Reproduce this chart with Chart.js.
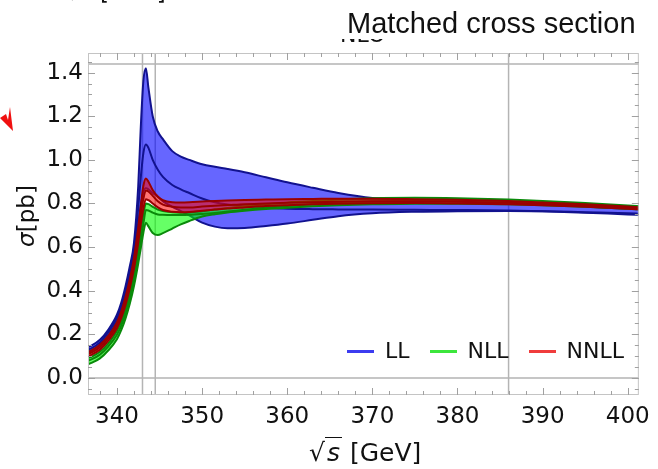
<!DOCTYPE html>
<html>
<head>
<meta charset="utf-8">
<script src="https://cdn.jsdelivr.net/npm/chart.js@4.4.1/dist/chart.umd.min.js"></script>
<style>
  html, body { margin: 0; padding: 0; background: #fff; }
  #wrap { position: relative; width: 658px; height: 469px; overflow: hidden; font-family: "DejaVu Sans", sans-serif; color: #111; }
  #chart { position: absolute; left: 0; top: 0; }
  .abs { position: absolute; white-space: nowrap; line-height: 1; }
  #title { left: 347px; top: 9px; font: 29px/1 "Liberation Sans", Arial, sans-serif; }
  #topcut { left: 66px; top: -19px; font-size: 23px; }
  #subcut { left: 340px; top: 24px; font-size: 22px; clip-path: inset(15px 0 0 0); }
  #xtitle { left: 309px; top: 440px; font-size: 25px; }
  #xtitle .rad { border-top: 1.5px solid #111; font-style: italic; padding: 0 2px; }
  #ytitle { left: -24px; top: 201px; width: 100px; height: 30px; line-height: 30px; text-align: center; font-size: 23px; transform: rotate(-90deg); }
  #legend { left: 347px; top: 340px; display: flex; align-items: center; font-size: 22px; }
  #legend .sw { display: inline-block; width: 27px; height: 3px; margin-right: 11px; }
  #legend .lab { margin-right: 20px; }
  #arrow { left: 0; top: 104px; }
</style>
</head>
<body>
<div id="wrap">
  <canvas id="chart" width="658" height="469"></canvas>
  <div class="abs" id="topcut">√s [GeV]</div>
  <div class="abs" id="subcut">NLO</div>
  <div class="abs" id="title">Matched cross section</div>
  <div class="abs" id="xtitle">√<span class="rad">s</span> [GeV]</div>
  <div class="abs" id="ytitle"><i>σ</i>[pb]</div>
  <div class="abs" id="legend"></div>
  <svg class="abs" id="arrow" width="18" height="32"><path d="M0,14 L6,10 L8,16 L10,3 L13,27 Z" fill="#f01010"/></svg>
</div>
<script>
// centre-of-mass energy grid [GeV]
const energy = [336.5, 337, 338, 339, 340, 340.5, 341, 341.5, 342, 342.5, 342.8, 343.1, 343.4, 343.7,
  344.2, 344.8, 345.4, 346.5, 347.5, 348.5, 350, 351.5, 353, 355, 357.5, 360, 363, 366, 370, 375,
  380, 386, 390, 395, 400, 401.5];

// cross section [pb]: scale-variation band (upper / central / lower) per order
const llUpper = [0.14, 0.148, 0.175, 0.222, 0.29, 0.345, 0.42, 0.51, 0.62, 0.88, 1.15, 1.36, 1.42, 1.33,
  1.2, 1.13, 1.095, 1.04, 1.015, 1.0, 0.98, 0.968, 0.958, 0.943, 0.92, 0.897, 0.872, 0.848, 0.825, 0.814,
  0.809, 0.802, 0.796, 0.786, 0.776, 0.773];
const llCentral = [0.128, 0.136, 0.163, 0.21, 0.276, 0.33, 0.4, 0.485, 0.595, 0.78, 0.92, 1.03, 1.07, 1.055,
  1.0, 0.955, 0.922, 0.885, 0.865, 0.848, 0.823, 0.806, 0.795, 0.786, 0.78, 0.776, 0.774, 0.773, 0.772, 0.771,
  0.77, 0.768, 0.765, 0.76, 0.755, 0.753];
const llLower = [0.115, 0.123, 0.15, 0.196, 0.26, 0.312, 0.38, 0.46, 0.565, 0.71, 0.79, 0.85, 0.87, 0.865,
  0.848, 0.83, 0.81, 0.785, 0.765, 0.745, 0.712, 0.694, 0.687, 0.688, 0.697, 0.708, 0.725, 0.742, 0.755, 0.762,
  0.765, 0.766, 0.764, 0.758, 0.75, 0.748];

const nllUpper = [0.09, 0.097, 0.12, 0.159, 0.215, 0.258, 0.315, 0.388, 0.478, 0.595, 0.675, 0.75, 0.8, 0.797,
  0.785, 0.772, 0.765, 0.76, 0.758, 0.759, 0.765, 0.772, 0.779, 0.787, 0.796, 0.804, 0.811, 0.818, 0.824, 0.826,
  0.824, 0.818, 0.812, 0.802, 0.791, 0.788];
const nllCentral = [0.078, 0.085, 0.107, 0.145, 0.198, 0.24, 0.294, 0.364, 0.45, 0.56, 0.635, 0.705, 0.77, 0.768,
  0.758, 0.75, 0.748, 0.747, 0.747, 0.748, 0.752, 0.757, 0.763, 0.771, 0.78, 0.788, 0.796, 0.802, 0.808, 0.811,
  0.811, 0.807, 0.802, 0.793, 0.783, 0.78];
const nllLower = [0.062, 0.069, 0.09, 0.127, 0.178, 0.219, 0.272, 0.339, 0.422, 0.525, 0.595, 0.665, 0.712, 0.695,
  0.665, 0.655, 0.664, 0.685, 0.704, 0.72, 0.74, 0.751, 0.759, 0.767, 0.775, 0.781, 0.787, 0.792, 0.796, 0.799,
  0.799, 0.796, 0.792, 0.785, 0.776, 0.773];

const nnllUpper = [0.118, 0.126, 0.152, 0.194, 0.255, 0.305, 0.37, 0.45, 0.55, 0.69, 0.79, 0.88, 0.915, 0.9,
  0.862, 0.832, 0.815, 0.806, 0.805, 0.806, 0.809, 0.812, 0.814, 0.816, 0.818, 0.82, 0.821, 0.822, 0.822, 0.82,
  0.817, 0.811, 0.805, 0.796, 0.786, 0.783];
const nnllCentral = [0.108, 0.116, 0.141, 0.183, 0.242, 0.29, 0.352, 0.43, 0.525, 0.655, 0.745, 0.82, 0.86, 0.855,
  0.835, 0.81, 0.795, 0.785, 0.782, 0.782, 0.786, 0.79, 0.793, 0.797, 0.8, 0.803, 0.806, 0.808, 0.81, 0.81,
  0.808, 0.803, 0.798, 0.79, 0.781, 0.778];
const nnllLower = [0.098, 0.106, 0.13, 0.171, 0.228, 0.274, 0.334, 0.41, 0.5, 0.62, 0.705, 0.775, 0.82, 0.815,
  0.8, 0.782, 0.77, 0.762, 0.76, 0.761, 0.767, 0.772, 0.777, 0.782, 0.788, 0.792, 0.796, 0.799, 0.801, 0.802,
  0.8, 0.796, 0.792, 0.785, 0.776, 0.773];

const orders = ["LL", "NLL", "NNLL"];
const xTicks = [340, 350, 360, 370, 380, 390, 400];
const yTicks = [0.0, 0.2, 0.4, 0.6, 0.8, 1.0, 1.2, 1.4];
// thresholds / reference lines
const refX = [343.0, 344.5, 386.0];
const refY = [0.0, 1.44];

const styles = {
  LL:   { line: "#12128f", fill: "rgba(0,0,255,0.6)",  key: "#3c3cf0" },
  NLL:  { line: "#0a8a0a", fill: "rgba(0,255,0,0.6)",  key: "#3ce63c" },
  NNLL: { line: "#9a0000", fill: "rgba(255,0,0,0.55)", key: "#f03c3c" }
};

const pts = vals => vals.map((v, i) => ({ x: energy[i], y: v }));

function band(name, upper, central, lower, baseOrder) {
  const s = styles[name];
  const common = { borderColor: s.line, borderWidth: 2, pointRadius: 0, cubicInterpolationMode: "monotone" };
  return [
    { ...common, label: name + " upper", data: pts(upper), fill: "+2", backgroundColor: s.fill, order: baseOrder + 2 },
    { ...common, label: name, data: pts(central), fill: false, order: baseOrder + 1 },
    { ...common, label: name + " lower", data: pts(lower), fill: false, order: baseOrder }
  ];
}

const datasets = [
  ...band("LL", llUpper, llCentral, llLower, 7),
  ...band("NLL", nllUpper, nllCentral, nllLower, 4),
  ...band("NNLL", nnllUpper, nnllCentral, nnllLower, 1)
];

// gray reference lines behind the bands, light frame with inward ticks on top
const framePlugin = {
  id: "frame",
  beforeDatasetsDraw(chart) {
    const { ctx, chartArea: a, scales: { x, y } } = chart;
    ctx.save();
    ctx.strokeStyle = "#b4b4b4";
    ctx.lineWidth = 1.5;
    ctx.beginPath();
    refX.forEach(v => { const p = x.getPixelForValue(v); ctx.moveTo(p, a.top); ctx.lineTo(p, a.bottom); });
    refY.forEach(v => { const p = y.getPixelForValue(v); ctx.moveTo(a.left, p); ctx.lineTo(a.right, p); });
    ctx.stroke();
    ctx.restore();
  },
  afterDatasetsDraw(chart) {
    const { ctx, chartArea: a, scales: { x, y } } = chart;
    ctx.save();
    ctx.strokeStyle = "#c4c4c4";
    ctx.lineWidth = 1;
    ctx.strokeRect(a.left + 0.5, a.top + 0.5, a.width - 1, a.height - 1);
    ctx.strokeStyle = "#a0a0a0";
    ctx.beginPath();
    for (let v = 336; v <= 402; v += 2) {
      if (v < x.min || v > x.max) continue;
      const p = Math.round(x.getPixelForValue(v)) + 0.5;
      const len = v % 10 === 0 ? 7 : 4;
      ctx.moveTo(p, a.bottom); ctx.lineTo(p, a.bottom - len);
      ctx.moveTo(p, a.top); ctx.lineTo(p, a.top + len);
    }
    for (let i = -2; i <= 30; i++) {
      const v = i * 0.05;
      if (v < y.min || v > y.max) continue;
      const p = Math.round(y.getPixelForValue(v)) + 0.5;
      const len = i % 4 === 0 ? 7 : 4;
      ctx.moveTo(a.left, p); ctx.lineTo(a.left + len, p);
      ctx.moveTo(a.right, p); ctx.lineTo(a.right - len, p);
    }
    ctx.stroke();
    ctx.restore();
  }
};

Chart.defaults.font.family = "'DejaVu Sans', sans-serif";

new Chart(document.getElementById("chart"), {
  type: "line",
  data: { datasets },
  options: {
    responsive: false,
    animation: false,
    layout: { padding: { top: 53, right: 14, left: 0, bottom: 0 } },
    plugins: { legend: { display: false }, tooltip: { enabled: false } },
    scales: {
      x: {
        type: "linear",
        min: 336.6,
        max: 401.3,
        afterFit: s => { s.height = 74; },
        afterBuildTicks: s => { s.ticks = xTicks.map(v => ({ value: v })); },
        grid: { display: false, drawTicks: false },
        border: { display: false },
        ticks: { color: "#111", font: { size: 23 }, padding: 8, maxRotation: 0, callback: v => String(v) }
      },
      y: {
        min: -0.078,
        max: 1.49,
        afterFit: s => { s.width = 88; },
        afterBuildTicks: s => { s.ticks = yTicks.map(v => ({ value: v })); },
        grid: { display: false, drawTicks: false },
        border: { display: false },
        ticks: { color: "#111", font: { size: 23 }, padding: 5, callback: v => v.toFixed(1) }
      }
    }
  },
  plugins: [framePlugin]
});

// legend entries
const legend = document.getElementById("legend");
orders.forEach(name => {
  const sw = document.createElement("span");
  sw.className = "sw";
  sw.style.background = styles[name].key;
  const lab = document.createElement("span");
  lab.className = "lab";
  lab.textContent = name;
  legend.appendChild(sw);
  legend.appendChild(lab);
});
</script>
</body>
</html>
